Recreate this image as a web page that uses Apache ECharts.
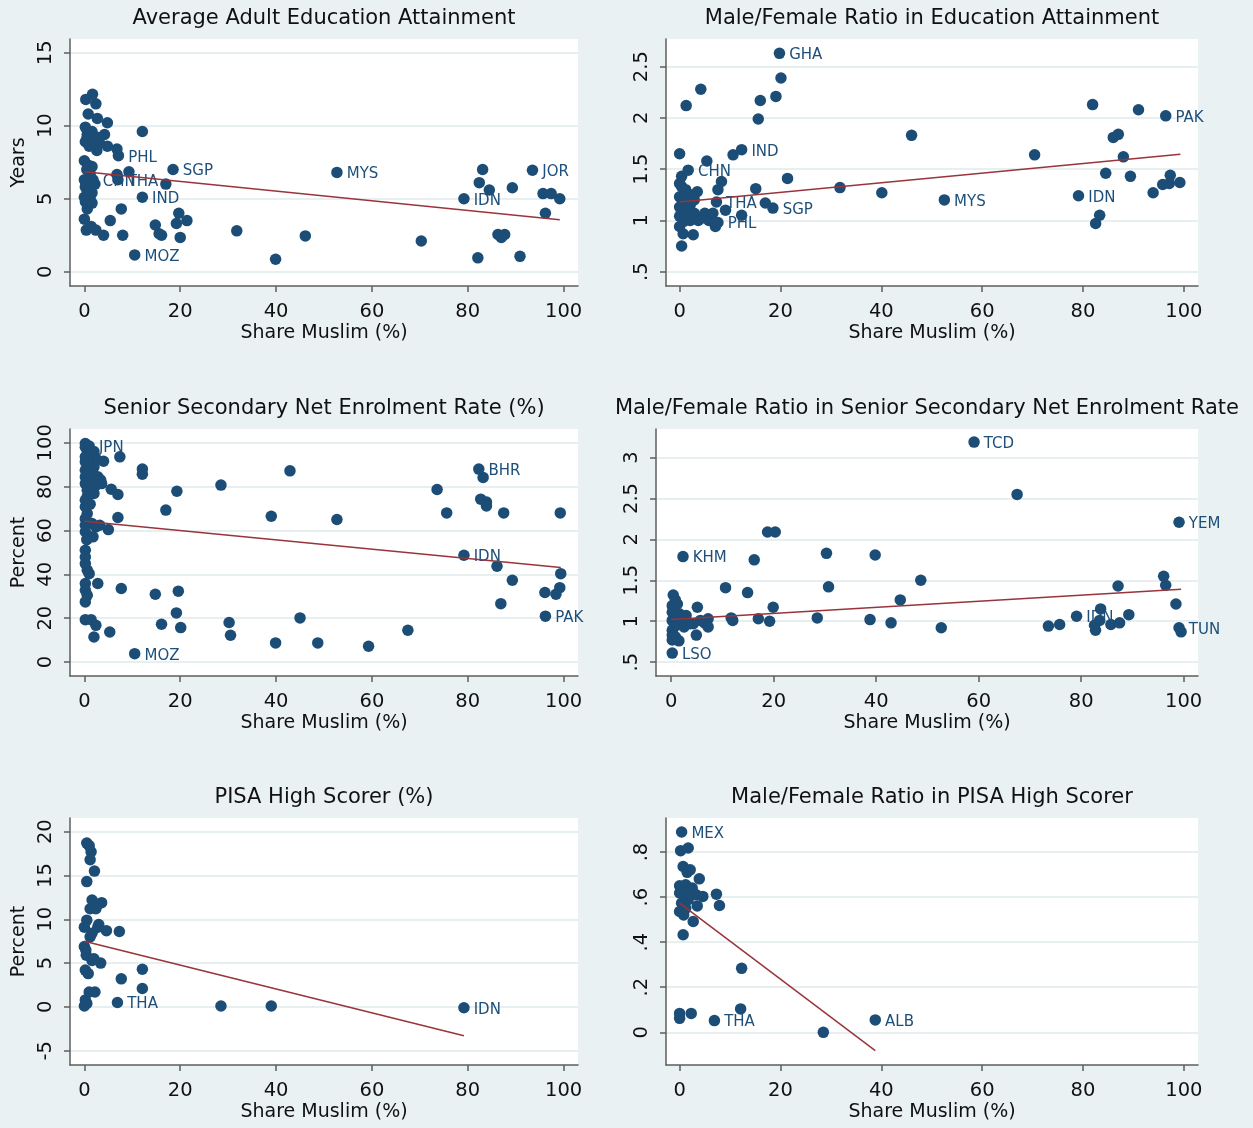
<!DOCTYPE html>
<html><head><meta charset="utf-8">
<script src="https://cdn.jsdelivr.net/npm/echarts@6/dist/echarts.min.js"></script>
<style>html,body{margin:0;padding:0;background:#e9f1f2}#c{width:1253px;height:1128px}</style>
</head><body><div id="c"></div>
<script>
// ---------- DATA ----------
const titles = [
  'Average Adult Education Attainment',
  'Male/Female Ratio in Education Attainment',
  'Senior Secondary Net Enrolment Rate (%)',
  'Male/Female Ratio in Senior Secondary Net Enrolment Rate',
  'PISA High Scorer (%)',
  'Male/Female Ratio in PISA High Scorer'
];
const xName = 'Share Muslim (%)';
const yNames = ['Years', '', 'Percent', '', 'Percent', ''];
const xTicks = [0, 20, 40, 60, 80, 100];
const y1Ticks = [0, 5, 10, 15];
const y2Ticks = [0.5, 1, 1.5, 2, 2.5];
const y3Ticks = [0, 20, 40, 60, 80, 100];
const y4Ticks = [0.5, 1, 1.5, 2, 2.5, 3];
const y5Ticks = [-5, 0, 5, 10, 15, 20];
const y6Ticks = [0, 0.2, 0.4, 0.6, 0.8];

// Panel 1: average adult education attainment (years)
const p1 = [[1.7,12.15],[0.3,11.8],[2.4,11.5],[0.8,10.8],[2.7,10.5],[4.8,10.2],[12.1,9.6],[0.2,9.9],[0.6,9.4],[1.6,9.6],[4.2,9.4],[0.2,8.9],[2.0,9.0],[3.2,8.8],[2.6,8.3],[4.8,8.6],[6.8,8.4],[0,7.6],[0.8,7.3],[1.6,7.2],[9.3,6.85],[6.8,6.65],[17,6.0],[0,6.3],[0.2,5.8],[0.6,5.5],[0,5.1],[1.2,5.0],[0.2,4.8],[0.6,4.3],[1.6,4.7],[1.6,5.4],[0,3.6],[0.4,2.85],[1.4,3.1],[2.4,2.85],[4.0,2.5],[5.4,3.5],[7.7,4.3],[8.0,2.5],[14.8,3.2],[16.1,2.5],[15.6,2.6],[19.2,3.3],[19.7,4.0],[21.4,3.5],[20,2.35],[31.8,2.8],[39.9,0.85],[46.1,2.45],[70.3,2.1],[83.1,7.0],[82.4,6.1],[84.5,5.6],[89.3,5.75],[95.7,5.35],[97.4,5.35],[99.2,5.0],[96.2,4.0],[86.3,2.55],[87.7,2.55],[87,2.35],[82.1,0.95],[90.9,1.05],[0.5,9.1],[1.0,8.6],[3.0,9.2],[1.2,6.7],[0.5,7.0],[0.3,6.0],[1.0,5.7],[2.2,6.0]];
const l1 = [[7.1,7.95,'PHL'],[18.5,7.0,'SGP'],[52.7,6.8,'MYS'],[1.8,6.3,'CHN'],[7.0,6.3,'THA'],[12.1,5.1,'IND'],[79.2,5.0,'IDN'],[93.5,6.95,'JOR'],[10.5,1.15,'MOZ']];
const f1 = [[0,6.85],[99.2,3.55]];

// Panel 2: male/female ratio in education attainment
const p2 = [[20.1,2.39],[19.1,2.21],[16.0,2.17],[15.6,1.99],[4.2,2.28],[1.3,2.12],[46.0,1.83],[10.6,1.64],[0,1.65],[5.4,1.58],[0.4,1.43],[0,1.36],[8.3,1.38],[7.6,1.30],[3.5,1.28],[15.1,1.31],[21.4,1.41],[31.8,1.32],[40.1,1.27],[70.4,1.64],[17.0,1.17],[12.3,1.05],[9.1,1.10],[0,1.23],[0.8,1.2],[1.7,1.26],[0,1.13],[1.2,1.09],[2.1,1.15],[2.9,1.07],[0,1.04],[0.8,0.99],[2.1,1.0],[4.2,1.02],[5,1.07],[5.8,1.0],[7.1,0.94],[0,0.94],[0.7,0.87],[2.7,0.86],[0.4,0.75],[3.7,1.0],[6.6,1.07],[2.9,1.2],[1.2,1.3],[0.4,1.33],[81.9,2.13],[91.0,2.08],[86.0,1.81],[87.0,1.84],[88.0,1.62],[84.5,1.46],[89.4,1.43],[93.9,1.27],[95.8,1.35],[97.1,1.36],[97.3,1.44],[99.2,1.37],[83.3,1.05],[82.5,0.97]];
const l2 = [[19.8,2.63,'GHA'],[12.3,1.69,'IND'],[1.7,1.49,'CHN'],[7.3,1.18,'THA'],[18.5,1.12,'SGP'],[7.6,0.98,'PHL'],[52.5,1.2,'MYS'],[79.1,1.24,'IDN'],[96.4,2.02,'PAK']];
const f2 = [[0,1.18],[99.3,1.645]];

// Panel 3: senior secondary net enrolment rate (%)
const p3 = [[0.2,99.7],[0.2,98],[0.8,96],[2,96],[0.2,93.6],[2.4,92.8],[0.2,91.3],[1.2,89.8],[4.0,91.6],[7.4,93.6],[0.2,87.5],[1.6,86.8],[0.2,84.5],[1.6,83],[2.8,84.5],[3.4,83],[0.2,81.4],[1.6,79.9],[2.4,80.7],[3.6,81.4],[0.6,78.4],[2,76.9],[5.6,78.8],[7,76.4],[0.2,73.8],[0.2,70.8],[0.6,67.7],[7,65.9],[0.2,65.4],[0.2,62.4],[1.6,63.2],[2.4,61.6],[3.2,62.4],[5,60.4],[0.2,59.4],[1,57.1],[1.8,57.1],[0.2,51],[0.2,47.9],[0.2,44.9],[0.6,41.9],[1,40.3],[0.2,35.8],[2.8,35.8],[0.2,32.7],[0.6,30.4],[0.2,27.4],[0.2,19.3],[1.4,19.3],[2.4,16.7],[2,11.4],[5.3,13.7],[7.7,33.5],[12.1,88],[12.1,85.7],[17,69.3],[19.3,77.9],[28.5,80.7],[42.9,87.2],[39,66.5],[52.7,65],[14.8,30.9],[19.6,32.3],[19.2,22.4],[16.1,17.2],[20.1,15.7],[30.2,18],[30.5,12.2],[39.9,8.7],[45,20.1],[48.7,8.7],[59.3,7.2],[67.5,14.5],[73.6,78.7],[75.6,68],[83.2,84.2],[82.7,74.3],[83.9,73],[83.9,71.2],[87.5,68],[86.1,43.7],[89.3,37.3],[86.9,26.6],[99.3,68],[99.4,40.3],[99.2,33.9],[98.4,30.9],[96.1,31.7],[1.0,86],[0.6,75.5],[1.2,72],[0.5,55.8],[1.2,88.5],[2.0,89],[1.0,82]];
const l3 = [[1.0,98.5,'JPN'],[82.3,88,'BHR'],[79.2,48.7,'IDN'],[96.2,20.9,'PAK'],[10.5,3.8,'MOZ']];
const f3 = [[0,64.2],[99.4,43.1]];

// Panel 4: male/female ratio in senior secondary net enrolment rate
const p4 = [[67.5,2.55],[18.8,2.09],[20.3,2.09],[16.2,1.75],[30.3,1.83],[39.8,1.81],[48.7,1.50],[10.6,1.41],[14.9,1.35],[30.7,1.42],[44.7,1.26],[87.2,1.43],[96.1,1.55],[96.5,1.44],[98.5,1.21],[19.9,1.17],[5.1,1.17],[83.8,1.15],[28.5,1.04],[38.8,1.02],[42.9,0.98],[52.7,0.92],[73.6,0.94],[75.8,0.96],[82.6,0.95],[82.8,0.89],[83.6,1.01],[85.8,0.96],[87.5,0.98],[89.3,1.08],[99.5,0.87],[12,1.01],[11.7,1.04],[17,1.03],[19.2,1.0],[0.4,1.32],[0.8,1.26],[0.2,1.19],[1.2,1.21],[0.2,1.11],[1.6,1.09],[2.9,1.07],[0.2,1.01],[1.2,0.97],[2.5,0.93],[0.2,0.89],[0.8,0.81],[1.5,0.76],[3.7,0.97],[4.9,0.83],[5.7,1.01],[7.2,1.03],[7.2,0.93],[0.2,0.83],[0.2,0.77],[4.3,0.97],[1.0,1.05],[2.0,1.0],[0.6,0.93],[6.5,0.98]];
const l4 = [[59.1,3.19,'TCD'],[99.1,2.21,'YEM'],[2.3,1.79,'KHM'],[79.1,1.06,'IDN'],[99.1,0.92,'TUN'],[0.2,0.61,'LSO']];
const f4 = [[0,1.02],[99.5,1.39]];

// Panel 5: PISA high scorer (%)
const p5 = [[0.5,18.7],[1,18.4],[1.4,17.7],[1.2,16.8],[2.1,15.5],[0.5,14.3],[1.6,12.2],[3.6,11.9],[1.2,11.2],[2.4,11.2],[2.8,11.7],[0.5,9.9],[0,9.1],[2.8,9.1],[1.6,8.4],[4.6,8.7],[7.3,8.6],[1.2,8.0],[0,6.9],[0.4,5.9],[1.6,5.3],[3.4,5.0],[0.2,4.2],[0.8,3.8],[12.1,4.3],[7.7,3.2],[12.1,2.1],[1,1.7],[2.2,1.7],[0.2,0.8],[0.5,0.4],[0,0.1],[28.5,0.1],[39,0.1],[2.0,5.5],[0.3,6.5],[3.0,9.4]];
const l5 = [[6.9,0.5,'THA'],[79.2,-0.1,'IDN']];
const f5 = [[0,7.5],[79.2,-3.3]];

// Panel 6: male/female ratio in PISA high scorer
const p6 = [[0.2,0.806],[1.7,0.818],[0.7,0.736],[2.1,0.721],[1.5,0.71],[3.9,0.681],[0,0.65],[1.2,0.655],[2.5,0.64],[0,0.618],[0.8,0.61],[2.1,0.625],[3.3,0.61],[4.6,0.603],[7.3,0.613],[1.7,0.588],[0.4,0.573],[3.5,0.561],[7.9,0.563],[0,0.536],[0.8,0.521],[2.7,0.492],[0.7,0.433],[1.2,0.55],[12.3,0.284],[12.1,0.104],[0,0.084],[0,0.062],[2.3,0.084],[28.5,0.0]];
const l6 = [[0.4,0.889,'MEX'],[6.9,0.052,'THA'],[38.8,0.055,'ALB']];
const f6 = [[0,0.573],[38.8,-0.081]];

// ---------- LAYOUT ----------
const FONT = '"DejaVu Sans", sans-serif';
const BG = '#e9f1f2';
const NAVY = '#1c4d76';
const LABEL = '#1d4f7a';
const MAROON = '#98343b';
const AXIS = '#5e5e5e';
const GRIDC = '#e7eff1';

const layout = [
  {grid:{left:70, top:39, width:508, height:247}, x:[-3,103], y:[-0.98,15.94], yTicks:y1Ticks, titleTop:8},
  {grid:{left:666,top:39, width:532, height:247}, x:[-2.7,102.8], y:[0.36,2.77], yTicks:y2Ticks, titleTop:8},
  {grid:{left:70, top:429,width:508, height:247}, x:[-3,103], y:[-6.4,106.3], yTicks:y3Ticks, titleTop:398},
  {grid:{left:656,top:429,width:542, height:247}, x:[-2.97,102.8], y:[0.33,3.35], yTicks:y4Ticks, titleTop:398},
  {grid:{left:70, top:818,width:508, height:247}, x:[-3,103], y:[-6.63,21.56], yTicks:y5Ticks, titleTop:787},
  {grid:{left:666,top:818,width:532, height:247}, x:[-2.7,102.8], y:[-0.145,0.951], yTicks:y6Ticks, titleTop:787}
];
const pts = [p1,p2,p3,p4,p5,p6];
const labs = [l1,l2,l3,l4,l5,l6];
const fits = [f1,f2,f3,f4,f5,f6];

const fmt = v => String(v).replace(/^0\./,'.').replace(/^-0\./,'-.');

const option = {backgroundColor:BG, animation:false, title:[], grid:[], xAxis:[], yAxis:[], series:[]};
layout.forEach((L,i)=>{
  option.title.push({
    text:titles[i], left:L.grid.left + L.grid.width/2, top:L.titleTop, textAlign:'center', padding:0,
    textStyle:{fontFamily:FONT, fontSize:21, fontWeight:'normal', color:'#111'}
  });
  option.grid.push(Object.assign({show:true, backgroundColor:'#fff', borderWidth:0}, L.grid));
  option.xAxis.push({
    gridIndex:i, type:'value', min:L.x[0], max:L.x[1],
    name:xName, nameLocation:'middle', nameGap:38,
    nameTextStyle:{fontFamily:FONT, fontSize:19, color:'#111'},
    axisLine:{show:true, onZero:false, lineStyle:{color:AXIS, width:1.5}},
    axisTick:{show:true, length:6, customValues:xTicks, lineStyle:{color:AXIS, width:1.5}},
    axisLabel:{customValues:xTicks, margin:16, fontSize:19.5, color:'#111', fontFamily:FONT},
    splitLine:{show:false}
  });
  option.yAxis.push({
    gridIndex:i, type:'value', min:L.y[0], max:L.y[1],
    name:yNames[i], nameLocation:'middle', nameGap:41,
    nameTextStyle:{fontFamily:FONT, fontSize:19, color:'#111'},
    axisLine:{show:true, onZero:false, lineStyle:{color:AXIS, width:1.5}},
    axisTick:{show:true, length:6, customValues:L.yTicks, lineStyle:{color:AXIS, width:1.5}},
    axisLabel:{customValues:L.yTicks, rotate:90, margin:14, fontSize:19.5, color:'#111', fontFamily:FONT, formatter:fmt},
    splitLine:{show:true, lineStyle:{color:GRIDC, width:2}}
  });
  const data = pts[i].map(d=>({value:[d[0],d[1]], name:''}))
    .concat(labs[i].map(d=>({value:[d[0],d[1]], name:d[2]})));
  option.series.push({
    type:'scatter', xAxisIndex:i, yAxisIndex:i, data:data, symbol:'circle', symbolSize:11.5, z:2,
    itemStyle:{color:NAVY, opacity:1},
    label:{show:true, position:'right', distance:4, offset:[0,2], formatter:p=>p.data.name||'',
      color:LABEL, fontSize:15, fontFamily:FONT}
  });
  option.series.push({
    type:'line', xAxisIndex:i, yAxisIndex:i, data:fits[i], symbol:'none', z:3,
    lineStyle:{color:MAROON, width:1.5}
  });
});
const chart = echarts.init(document.getElementById('c'));
chart.setOption(option);
</script>
</body></html>
